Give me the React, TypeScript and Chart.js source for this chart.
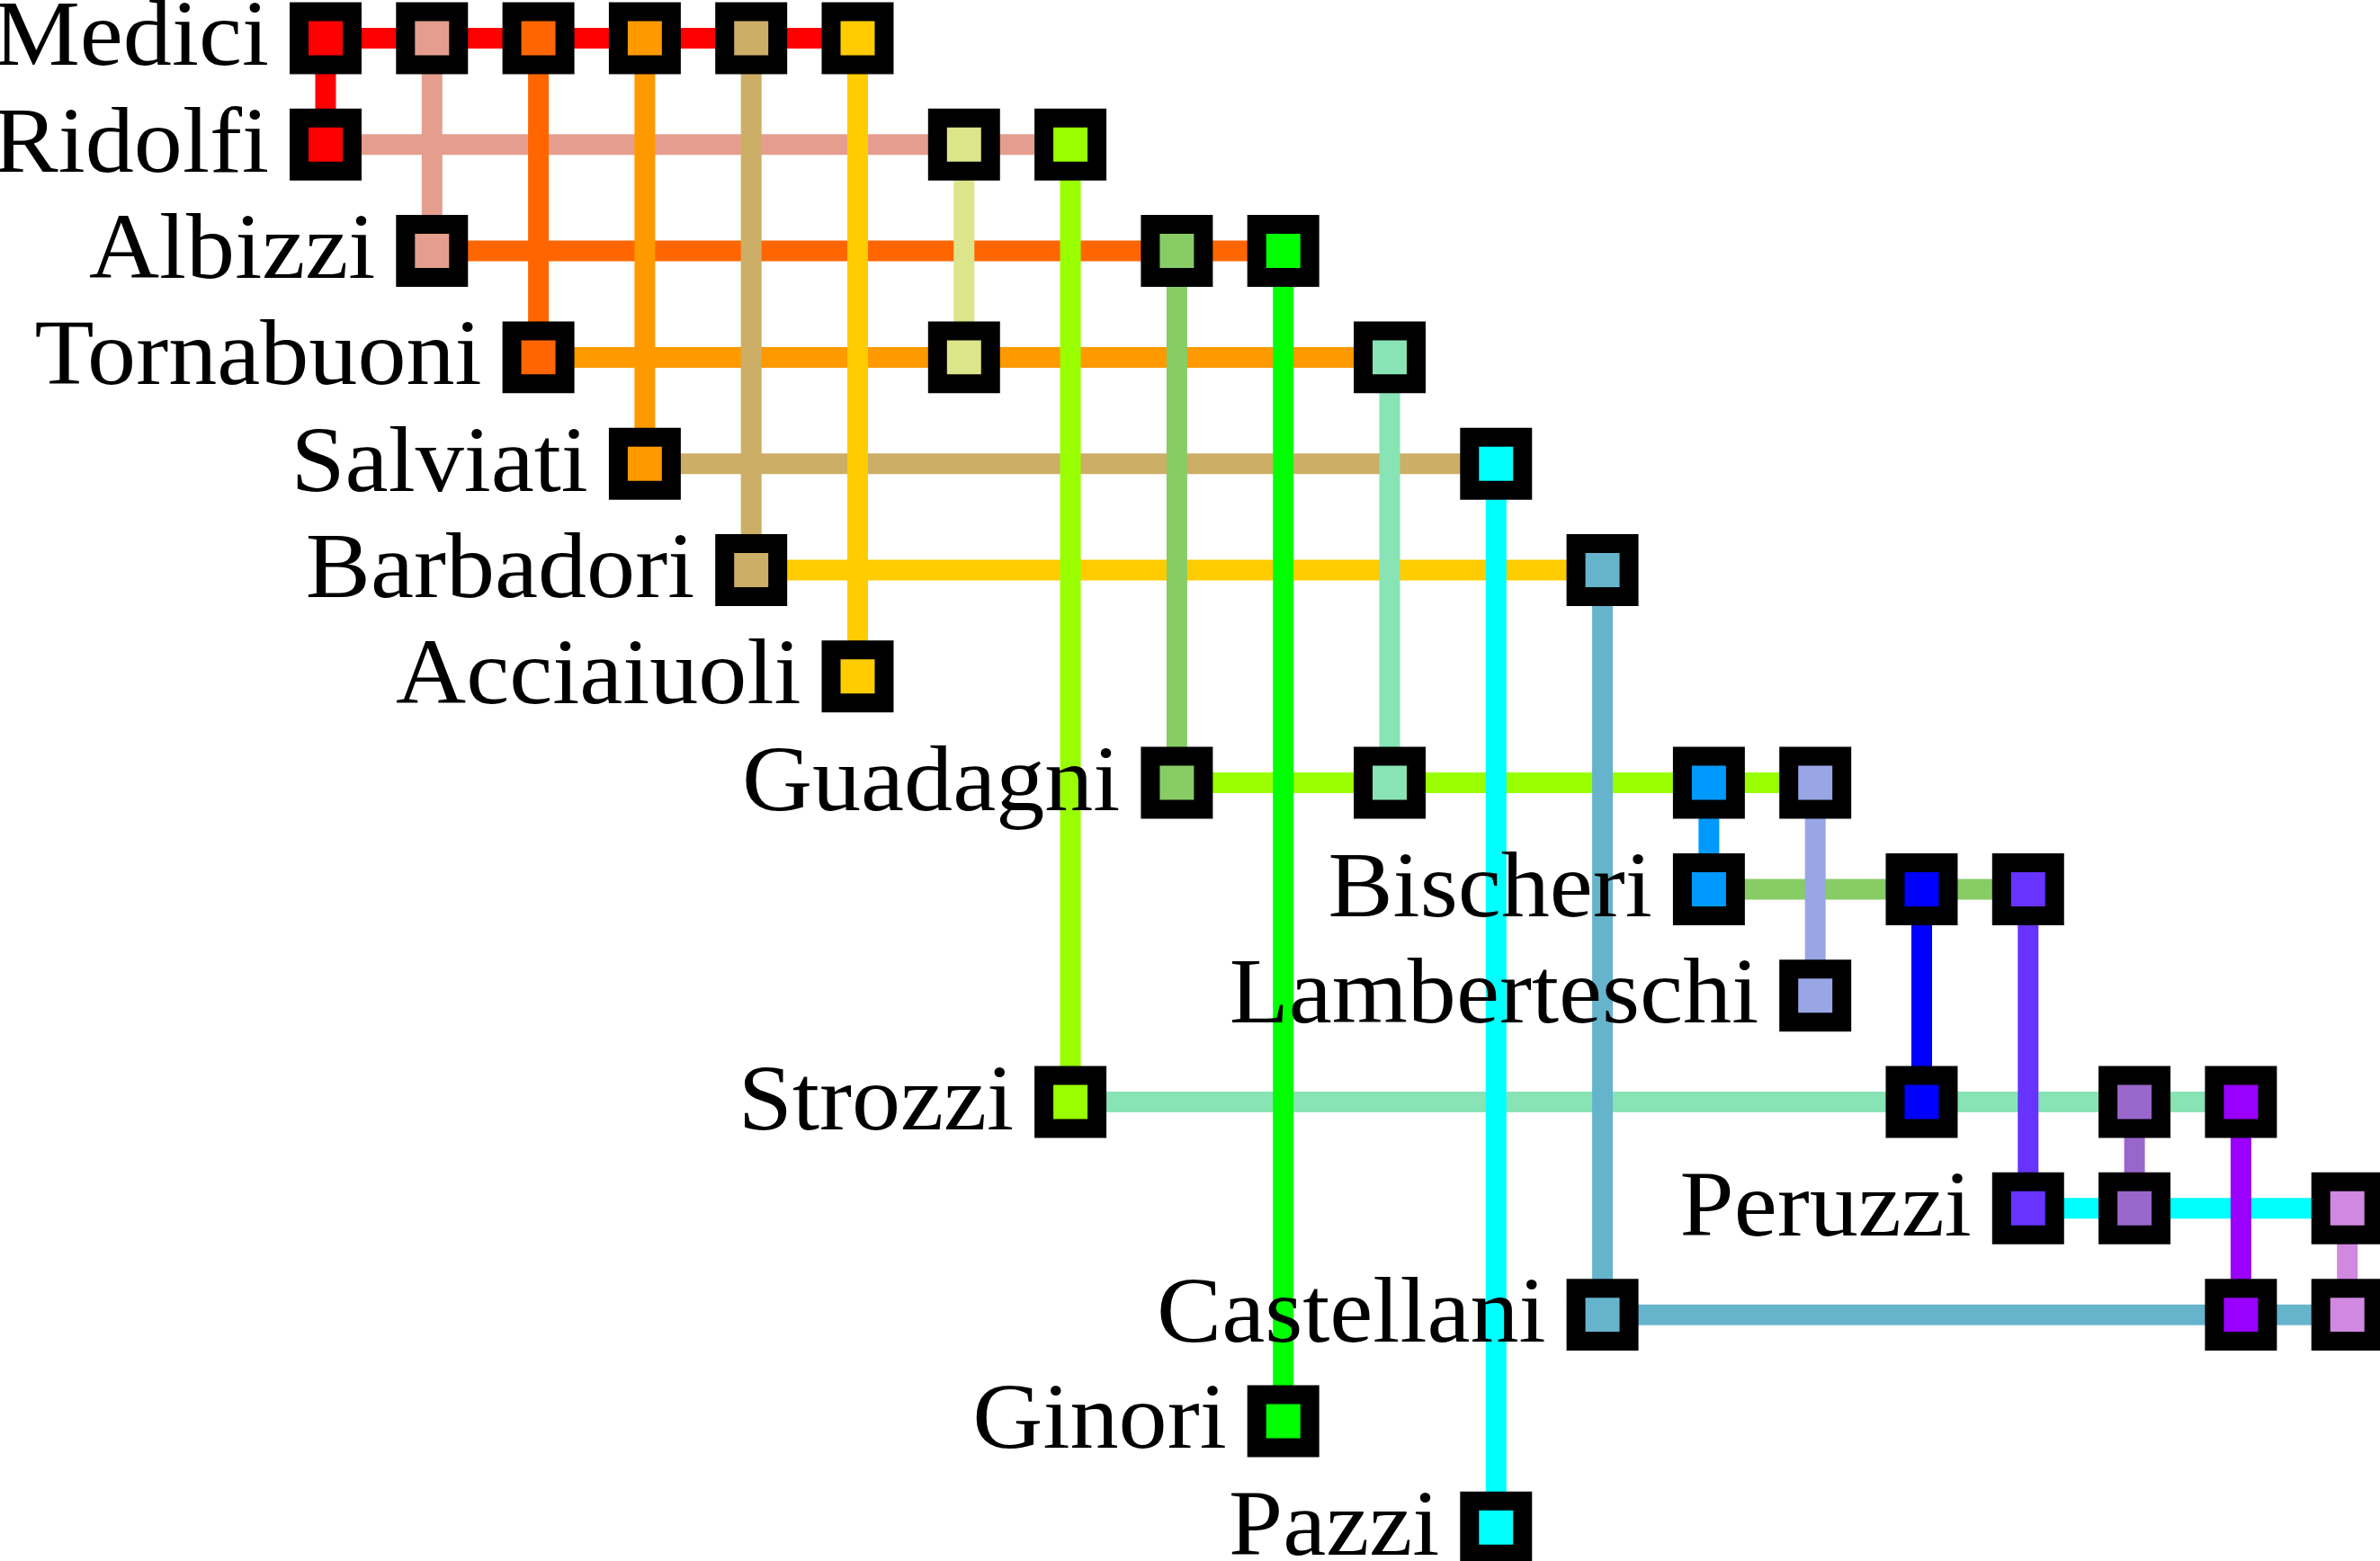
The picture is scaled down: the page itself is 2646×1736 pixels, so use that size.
import { useEffect, useRef } from 'react'
import { Chart, registerables } from 'chart.js'

Chart.register(...registerables)

// rows, top to bottom
const families = [
  'Medici', 'Ridolfi', 'Albizzi', 'Tornabuoni', 'Salviati', 'Barbadori', 'Acciaiuoli',
  'Guadagni', 'Bischeri', 'Lamberteschi', 'Strozzi', 'Peruzzi', 'Castellani', 'Ginori', 'Pazzi',
]

// one column per marriage tie, left to right
const edgeFrom = [
  'Medici', 'Medici', 'Medici', 'Medici', 'Medici', 'Medici', 'Ridolfi', 'Ridolfi', 'Albizzi', 'Albizzi',
  'Tornabuoni', 'Salviati', 'Barbadori', 'Guadagni', 'Guadagni', 'Bischeri', 'Bischeri', 'Strozzi', 'Strozzi', 'Peruzzi',
]
const edgeTo = [
  'Ridolfi', 'Albizzi', 'Tornabuoni', 'Salviati', 'Barbadori', 'Acciaiuoli', 'Tornabuoni', 'Strozzi', 'Guadagni', 'Ginori',
  'Guadagni', 'Pazzi', 'Castellani', 'Bischeri', 'Lamberteschi', 'Strozzi', 'Peruzzi', 'Peruzzi', 'Castellani', 'Castellani',
]
const edgeColors = [
  '#ff0000', '#e59e8e', '#ff6600', '#ff9900', '#ccae66', '#ffcc00', '#dde58a', '#99ff00', '#88cc66', '#00ff00',
  '#88e4b4', '#00ffff', '#66b4cc', '#0099ff', '#99a6e6', '#0000ff', '#6633ff', '#9966cc', '#9900ff', '#d088e0',
]
// colour of the horizontal rule through each row
const rowColors = [
  '#ff0000', '#e59e8e', '#ff6600', '#ff9900', '#ccae66', '#ffcc00', '#dde58a', '#99ff00',
  '#88cc66', '#00ff00', '#88e4b4', '#00ffff', '#66b4cc', '#0099ff', '#99a6e6',
]

export default function App() {
  const canvasRef = useRef<HTMLCanvasElement>(null)

  useEffect(() => {
    document.body.style.margin = '0'
    if (!canvasRef.current) return

    const rowOf = (name: string) => families.indexOf(name)

    // columns touching each row
    const rowCols: number[][] = families.map(() => [])
    edgeFrom.forEach((f, k) => {
      rowCols[rowOf(f)].push(k)
      rowCols[rowOf(edgeTo[k])].push(k)
    })

    const horizontal = families
      .map((_, r) => {
        const cols = rowCols[r]
        if (cols.length < 2) return null
        return {
          data: [
            { x: Math.min(...cols), y: r },
            { x: Math.max(...cols), y: r },
          ],
          borderColor: rowColors[r],
          order: 2,
        }
      })
      .filter(Boolean) as any[]

    const vertical = edgeFrom.map((f, k) => ({
      data: [
        { x: k, y: rowOf(f) },
        { x: k, y: rowOf(edgeTo[k]) },
      ],
      borderColor: edgeColors[k],
      order: 1,
    }))

    const boxPoints: { x: number; y: number }[] = []
    const boxColors: string[] = []
    edgeFrom.forEach((f, k) => {
      boxPoints.push({ x: k, y: rowOf(f) }, { x: k, y: rowOf(edgeTo[k]) })
      boxColors.push(edgeColors[k], edgeColors[k])
    })

    // names sit to the left of each row's first box
    const labelPlugin = {
      id: 'familyLabels',
      afterDatasetsDraw(chart: any) {
        const { ctx, scales } = chart
        ctx.save()
        ctx.font = '103px "Liberation Serif", serif'
        ctx.fillStyle = '#000'
        ctx.textAlign = 'right'
        ctx.textBaseline = 'alphabetic'
        families.forEach((name, r) => {
          const first = Math.min(...rowCols[r])
          ctx.save()
          ctx.translate(scales.x.getPixelForValue(first) - 63, scales.y.getPixelForValue(r) + 30)
          ctx.scale(1.05, 1)
          ctx.fillText(name, 0, 0)
          ctx.restore()
        })
        ctx.restore()
      },
    }

    const lineDefaults = {
      showLine: true,
      borderWidth: 23,
      borderCapStyle: 'butt' as const,
      pointRadius: 0,
      clip: false as const,
    }

    const chart = new Chart(canvasRef.current, {
      type: 'scatter',
      data: {
        datasets: [
          {
            data: boxPoints,
            pointStyle: 'rect',
            pointRadius: 41.7,
            pointBackgroundColor: boxColors,
            pointBorderColor: '#000',
            pointBorderWidth: 21,
            showLine: false,
            clip: false,
            order: 0,
          },
          ...vertical.map(d => ({ ...lineDefaults, ...d })),
          ...horizontal.map(d => ({ ...lineDefaults, ...d })),
        ],
      },
      options: {
        responsive: false,
        animation: false,
        devicePixelRatio: 1,
        events: [],
        layout: { padding: 0, autoPadding: false },
        plugins: {
          legend: { display: false },
          tooltip: { enabled: false },
        },
        scales: {
          x: { type: 'linear', display: false, min: -3.06, max: 19.307 },
          y: { type: 'linear', display: false, reverse: true, min: -0.359, max: 14.315 },
        },
      },
      plugins: [labelPlugin],
    })

    return () => {
      chart.destroy()
    }
  }, [])

  return <canvas ref={canvasRef} width={2646} height={1736} style={{ display: 'block' }} />
}
